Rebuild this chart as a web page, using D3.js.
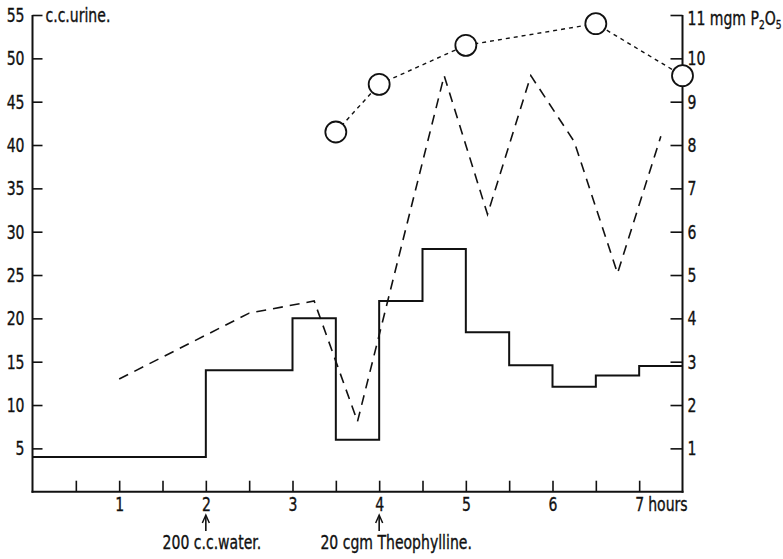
<!DOCTYPE html>
<html>
<head>
<meta charset="utf-8">
<script src="https://cdn.jsdelivr.net/npm/d3@7"></script>
<style>
  html, body { margin: 0; padding: 0; background: #fff; }
  svg { display: block; }
  text { font-family: "DejaVu Sans Condensed", "DejaVu Sans", sans-serif; fill: #111; stroke: #111; stroke-width: 0.35px; }
</style>
</head>
<body>
<svg id="chart" width="783" height="559"></svg>
<script>
// ---- data ----
const stepHours = [0, 2, 3, 3.5, 4, 4.5, 5, 5.5, 6, 6.5, 7, 7.5];
const urineVolume = [4, 14, 20, 6, 22, 28, 18.4, 14.6, 12.1, 13.4, 14.5, 14.5];

const dashHours = [1, 2.5, 3.25, 3.75, 4.75, 5.25, 5.75, 6.25, 6.75, 7.25];
const dashValues = [13, 20.6, 22, 8.1, 48, 32, 48, 40.4, 25.2, 41];

const p2o5Hours = [3.5, 4, 5, 6.5, 7.5];
const p2o5Values = [8.3, 9.4, 10.3, 10.8, 9.6];

const leftTicks = [5, 10, 15, 20, 25, 30, 35, 40, 45, 50, 55];
const rightTicks = [1, 2, 3, 4, 5, 6, 7, 8, 9, 10, 11];
const hourTicks = [0.5, 1, 1.5, 2, 2.5, 3, 3.5, 4, 4.5, 5, 5.5, 6, 6.5, 7];
const hourLabels = [1, 2, 3, 4, 5, 6, 7];

const leftTitle = "c.c.urine.";
const annotations = [
  { hour: 2, text: "200 c.c.water.", dx: 6 },
  { hour: 4, text: "20 cgm Theophylline.", dx: 17 }
];

// ---- scales ----
const svg = d3.select("#chart");
const x = d3.scaleLinear().domain([0, 7.5]).range([32.5, 682.5]);
const yL = d3.scaleLinear().domain([0, 55]).range([491.7, 15]);
const yR = d3.scaleLinear().domain([0, 11]).range([491.7, 15]);

const ink = "#111";
const fs = "20px";
const squeeze = 0.78;

// ---- axes ----
const gL = svg.append("g").attr("transform", `translate(${x(0)},0)`)
  .call(d3.axisLeft(yL).tickValues(leftTicks).tickSize(-10).tickSizeOuter(0).tickPadding(8));
const gR = svg.append("g").attr("transform", `translate(${x(7.5)},0)`)
  .call(d3.axisRight(yR).tickValues(rightTicks).tickSize(-12).tickSizeOuter(0).tickPadding(5)
    .tickFormat(d => d === 11 ? "" : String(d)));
const gB = svg.append("g").attr("transform", `translate(0,${yL(0)})`)
  .call(d3.axisBottom(x).tickValues(hourTicks).tickSize(-11).tickSizeOuter(0).tickPadding(5)
    .tickFormat(d => hourLabels.includes(d) ? String(d) : ""));

[gL, gR, gB].forEach(g => {
  g.select(".domain").attr("stroke", ink).attr("stroke-width", 2);
  g.selectAll(".tick line").attr("stroke", ink).attr("stroke-width", 1.6);
  g.selectAll(".tick text").attr("font-size", fs).attr("fill", ink)
    .style("font-family", '"DejaVu Sans Condensed", "DejaVu Sans", sans-serif');
});
gL.select(".domain").attr("d", `M0,${yL(55)}V${yL(0) + 1}`);
gR.select(".domain").attr("d", `M0,${yR(11)}V${yR(0) + 1}`);
gB.select(".domain").attr("d", `M${x(0) - 1},0H${x(7.5) + 1}`);

// titles
svg.append("text").attr("x", x(0) + 13).attr("y", yL(55)).attr("dy", "0.35em")
  .attr("font-size", fs).text(leftTitle);

const rt = svg.append("text").attr("x", x(7.5) + 5).attr("y", yR(11) + 3).attr("dy", "0.35em")
  .attr("font-size", fs);
rt.append("tspan").text("11 mgm P");
rt.append("tspan").attr("font-size", "13px").attr("dy", "4").text("2");
rt.append("tspan").attr("dy", "-4").text("O");
rt.append("tspan").attr("font-size", "13px").attr("dy", "4").text("5");

// "hours" after 7
svg.append("text").attr("x", x(7) + 9).attr("y", yL(0) + 5).attr("dy", "0.71em")
  .attr("font-size", fs).text("hours");

// annotations with arrows
annotations.forEach(a => {
  const cx = x(a.hour);
  svg.append("line").attr("x1", cx).attr("x2", cx).attr("y1", 516).attr("y2", 531)
    .attr("stroke", ink).attr("stroke-width", 1.6);
  svg.append("path").attr("d", `M${cx - 3.5},${523}L${cx},${515}L${cx + 3.5},${523}`)
    .attr("fill", "none").attr("stroke", ink).attr("stroke-width", 1.5);
  svg.append("text").attr("x", cx + a.dx).attr("y", 542).attr("dy", "0.35em")
    .attr("text-anchor", "middle").attr("font-size", "20px").text(a.text);
});

// ---- series ----
const stepLine = d3.line().x((d, i) => x(stepHours[i])).y(d => yL(d)).curve(d3.curveStepAfter);
svg.append("path").attr("d", stepLine(urineVolume))
  .attr("fill", "none").attr("stroke", ink).attr("stroke-width", 2);

const dashLine = d3.line().x((d, i) => x(dashHours[i])).y(d => yL(d));
svg.append("path").attr("d", dashLine(dashValues))
  .attr("fill", "none").attr("stroke", ink).attr("stroke-width", 1.6)
  .attr("stroke-dasharray", "10,7");

const dotLine = d3.line().x((d, i) => x(p2o5Hours[i])).y(d => yR(d));
svg.append("path").attr("d", dotLine(p2o5Values))
  .attr("fill", "none").attr("stroke", ink).attr("stroke-width", 1.4)
  .attr("stroke-dasharray", "4,4");

svg.selectAll("circle.p").data(p2o5Values).enter().append("circle")
  .attr("class", "p")
  .attr("cx", (d, i) => x(p2o5Hours[i])).attr("cy", d => yR(d)).attr("r", 10.5)
  .attr("fill", "#fff").attr("stroke", ink).attr("stroke-width", 1.8);

// condense all text horizontally around its anchor x
svg.selectAll("text").each(function () {
  const t = d3.select(this);
  const ax = +t.attr("x") || 0;
  t.attr("transform", `translate(${ax * (1 - squeeze)},0) scale(${squeeze},1)`);
});
</script>
</body>
</html>
